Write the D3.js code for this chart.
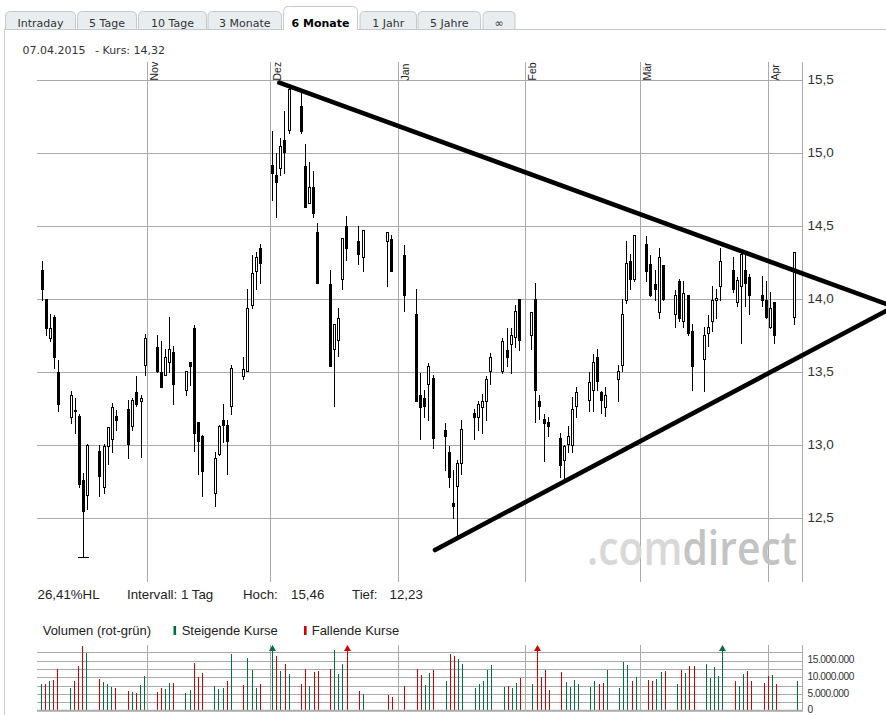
<!DOCTYPE html>
<html><head><meta charset="utf-8">
<script src="https://cdn.jsdelivr.net/npm/d3@7"></script>
<style>body{margin:0;background:#fff}svg{display:block}</style>
</head><body>
<svg id="c" width="886" height="715"></svg>
<script>
// ---------- DATA ----------
const dates = [
"2014-10-06","2014-10-07","2014-10-08","2014-10-09","2014-10-10","2014-10-13","2014-10-14","2014-10-15","2014-10-16","2014-10-17",
"2014-10-20","2014-10-21","2014-10-22","2014-10-23","2014-10-24","2014-10-27","2014-10-28","2014-10-29","2014-10-30","2014-10-31",
"2014-11-03","2014-11-04","2014-11-05","2014-11-06","2014-11-07","2014-11-10","2014-11-11","2014-11-12","2014-11-13","2014-11-14",
"2014-11-17","2014-11-18","2014-11-19","2014-11-20","2014-11-21","2014-11-24","2014-11-25","2014-11-26","2014-11-27","2014-11-28",
"2014-12-01","2014-12-02","2014-12-03","2014-12-04","2014-12-05","2014-12-08","2014-12-09","2014-12-10","2014-12-11","2014-12-12",
"2014-12-15","2014-12-16","2014-12-17","2014-12-18","2014-12-19","2014-12-22","2014-12-23","2014-12-29","2014-12-30",
"2015-01-02","2015-01-05","2015-01-06","2015-01-07","2015-01-08","2015-01-09","2015-01-12","2015-01-13","2015-01-14","2015-01-15",
"2015-01-16","2015-01-19","2015-01-20","2015-01-21","2015-01-22","2015-01-23","2015-01-26","2015-01-27","2015-01-28","2015-01-29","2015-01-30",
"2015-02-02","2015-02-03","2015-02-04","2015-02-05","2015-02-06","2015-02-09","2015-02-10","2015-02-11","2015-02-12","2015-02-13",
"2015-02-16","2015-02-17","2015-02-18","2015-02-19","2015-02-20","2015-02-23","2015-02-24","2015-02-25","2015-02-26","2015-02-27",
"2015-03-02","2015-03-03","2015-03-04","2015-03-05","2015-03-06","2015-03-09","2015-03-10","2015-03-11","2015-03-12","2015-03-13",
"2015-03-16","2015-03-17","2015-03-18","2015-03-19","2015-03-20","2015-03-23","2015-03-24","2015-03-25","2015-03-26","2015-03-27",
"2015-03-30","2015-03-31","2015-04-01","2015-04-02","2015-04-07"];
const open = [
14.20,14.00,13.73,13.88,13.50,13.19,13.24,13.20,12.76,12.66,
12.96,12.71,12.99,13.04,13.20,13.25,13.13,13.36,13.30,13.55,
13.67,13.50,13.48,13.57,13.64,13.38,13.57,13.80,13.16,13.06,
12.67,12.94,13.17,13.14,13.27,13.47,13.51,13.96,14.19,14.35,
14.92,14.85,14.90,15.09,15.16,15.32,14.91,14.66,14.77,14.46,
14.10,13.66,13.72,14.14,14.50,14.40,14.29,14.40,14.41,
14.30,13.90,13.34,13.32,13.42,13.46,13.10,12.95,12.60,12.72,
12.88,13.22,13.19,13.26,13.30,13.51,13.51,13.65,13.69,13.74,14.00,
13.75,14.00,13.30,13.18,13.16,13.05,12.90,13.01,13.00,13.27,
13.31,13.38,13.60,13.36,13.26,13.45,13.55,13.99,14.26,14.14,
14.38,14.24,14.10,13.91,14.23,13.90,14.12,13.85,14.03,13.78,
13.59,13.77,13.85,13.99,14.09,14.20,13.98,14.09,14.20,14.15,
14.03,13.99,13.81,13.98,13.88];
const high = [
14.26,14.00,13.90,13.89,13.58,13.37,13.32,13.21,12.81,13.01,
13.00,13.01,13.12,13.29,13.24,13.31,13.32,13.47,13.34,13.76,
13.75,13.71,13.66,13.88,13.68,13.51,13.57,13.82,13.16,13.07,
12.95,13.14,13.28,13.17,13.55,13.60,14.07,14.30,14.32,14.38,
15.15,15.00,15.10,15.29,15.46,15.41,15.06,14.94,14.88,14.52,
14.20,13.83,13.94,14.42,14.57,14.50,14.47,14.46,14.44,
14.37,14.07,13.49,13.38,13.56,13.48,13.15,12.99,12.83,12.90,
13.17,13.25,13.30,13.35,13.47,13.63,13.73,13.80,13.80,13.96,14.00,
13.91,14.11,13.34,13.21,13.19,13.08,13.00,13.13,13.33,13.40,
13.50,13.62,13.66,13.37,13.40,13.55,14.00,14.40,14.31,14.44,
14.43,14.30,14.20,14.35,14.23,14.06,14.14,14.12,14.03,13.83,
13.81,13.89,14.09,14.07,14.35,14.29,14.15,14.34,14.32,14.17,
14.16,14.12,14.05,13.98,14.32];
const low = [
13.99,13.75,13.71,13.53,13.23,13.15,13.08,12.71,12.23,12.56,
12.65,12.67,12.87,12.95,13.10,12.91,13.10,13.27,12.92,13.48,
13.50,13.40,13.48,13.50,13.28,13.34,13.41,12.96,12.80,12.65,
12.58,12.93,13.02,12.80,13.21,13.45,13.51,13.94,14.07,14.11,
14.68,14.56,14.85,14.86,15.14,15.14,14.63,14.66,14.56,14.11,
13.54,13.27,13.61,14.07,14.27,14.24,14.19,14.09,14.19,
13.92,13.30,13.04,13.19,13.17,12.98,12.83,12.71,12.50,12.37,
12.80,13.04,13.10,13.08,13.17,13.42,13.49,13.54,13.49,13.67,13.65,
13.66,13.16,13.18,12.89,13.06,12.78,12.76,12.95,12.95,13.19,
13.23,13.23,13.38,13.22,13.20,13.30,13.51,13.97,14.07,14.12,
14.12,14.02,13.99,13.87,13.99,13.81,13.85,13.81,13.75,13.38,
13.37,13.68,13.78,13.87,13.99,14.05,13.95,13.70,13.95,13.90,
13.95,13.87,13.80,13.70,13.83];
const close = [
14.07,13.80,13.80,13.60,13.28,13.34,13.23,12.73,12.55,13.00,
12.79,12.99,13.12,13.26,13.17,13.01,13.31,13.28,13.32,13.73,
13.51,13.40,13.60,13.66,13.42,13.51,13.54,13.08,13.03,12.82,
12.91,13.13,13.14,13.03,13.53,13.52,13.94,14.18,14.29,14.25,
14.86,14.80,15.05,15.01,15.44,15.15,14.63,14.77,14.59,14.11,
13.54,13.83,13.87,14.42,14.35,14.31,14.47,14.46,14.19,
14.03,13.30,13.26,13.27,13.54,13.05,13.06,12.78,12.58,12.88,
13.11,13.19,13.28,13.30,13.45,13.60,13.71,13.60,13.75,13.92,13.72,
13.91,13.38,13.27,13.15,13.13,12.86,12.99,13.06,13.25,13.36,
13.43,13.57,13.44,13.31,13.34,13.51,13.90,14.25,14.14,14.44,
14.19,14.03,14.07,14.29,14.00,14.03,13.87,14.04,13.77,13.54,
13.75,13.81,13.99,14.01,14.26,14.07,14.13,14.31,14.11,14.03,
13.99,13.88,13.94,13.75,14.32];
// volume in millions of shares
const volume = [
8.0,8.0,8.9,9.3,12.5,6.8,8.9,13.4,19.3,17.3,
9.5,8.6,8.0,7.1,6.8,5.9,5.6,5.3,7.7,10.4,
5.6,6.8,6.5,8.3,8.3,5.3,6.2,14.3,10.1,11.3,
7.4,6.5,6.8,8.9,17.0,7.7,15.8,12.2,6.8,8.0,
21.0,16.4,11.9,14.0,11.0,8.0,12.5,7.4,11.6,11.9,
12.5,18.2,11.0,14.0,21.0,5.9,5.0,4.7,4.1,
7.4,12.5,10.7,7.7,11.3,12.2,8.9,17.0,16.4,15.5,
14.0,6.8,8.0,8.9,12.2,13.7,7.1,7.4,6.8,8.3,9.8,
8.0,21.0,10.1,12.2,6.2,11.6,8.6,7.1,9.2,8.0,
7.1,8.9,8.0,8.3,12.2,6.8,14.6,13.7,8.9,10.1,
9.2,8.9,9.5,11.6,11.9,8.0,12.2,11.3,13.4,13.4,
14.0,9.8,13.1,10.4,21.0,8.9,7.4,11.0,11.9,8.9,
8.3,10.4,10.7,8.0,8.9];
// 1 = Steigende Kurse (green), 0 = Fallende Kurse (red)
const volUp = [
1,0,1,0,0,1,0,0,0,1,
0,1,1,1,0,0,1,0,1,1,
0,0,1,1,0,1,1,0,0,0,
1,1,1,0,1,0,1,1,1,0,
1,0,1,0,1,0,0,1,0,0,
0,1,1,1,0,0,1,0,0,
0,0,0,1,1,0,1,0,0,1,
1,1,1,1,1,1,1,0,1,1,0,
1,0,0,0,0,0,1,1,1,1,
1,1,0,0,1,1,1,1,0,1,
0,0,1,1,0,1,0,1,0,0,
1,1,1,1,1,0,1,1,0,0,
0,0,1,0,1];
const priceTicks = [12.5, 13.0, 13.5, 14.0, 14.5, 15.0, 15.5];
const priceTickLabels = ["12,5","13,0","13,5","14,0","14,5","15,0","15,5"];
const monthLabels = ["Nov","Dez","Jan","Feb","Mär","Apr"];
const volGridTicks = [0, 2.5, 5, 7.5, 10, 12.5, 15, 17.5];
const volLabelTicks = [0, 5, 10, 15];
const volLabelText = ["0","5.000.000","10.000.000","15.000.000"];
const trendUpper = [["2014-12-03T06:00", 15.482], ["2015-04-29T18:30", 13.966]];
const trendLower = [["2015-01-10T02:30", 12.281], ["2015-04-29T18:30", 13.918]];
const tabLabels = ["Intraday","5 Tage","10 Tage","3 Monate","6 Monate","1 Jahr","5 Jahre","∞"];
const activeTab = "6 Monate";
const headerDate = "07.04.2015", headerKurs = "- Kurs: 14,32";
const statsTexts = ["26,41%HL","Intervall: 1 Tag","Hoch:","15,46","Tief:","12,23"];

// ---------- LAYOUT ----------
const W = 886, H = 715;
const L = 37, R = 802;          // plot x extents
const T = 62, B = 582;          // plot y extents (grid verticals)
const VT = 645, VB = 710.7;     // volume panel
const tabEdges = [[5,76],[77,137],[138,207],[207.5,282],[283,358],[359.5,417],[417.5,481],[482.5,515.5]];
const statsX = [37.5,127,243,291,352,389.5];
const arial = "'Liberation Sans', Arial, sans-serif";
const verdana = "'DejaVu Sans', Verdana, sans-serif";

const svg = d3.select("#c");
svg.append("rect").attr("width",W).attr("height",H).attr("fill","#fff");

const pDay = d3.timeParse("%Y-%m-%d");
const pTime = d3.timeParse("%Y-%m-%dT%H:%M");

const x = d3.scaleTime().domain([new Date(2014,10,1), new Date(2015,3,1)]).range([146.7, 767.7]);
const xv = d3.scaleTime().domain(x.domain()).range([146.2, 770.0]);
const y = d3.scaleLinear().domain([12.5, 15.5]).range([518, 80]);
const yv = d3.scaleLinear().domain([0, 17.5]).range([VB, 652.3]);

const data = dates.map((d,i)=>({date: d3.timeHour.offset(pDay(d),12), o:open[i], h:high[i], l:low[i], c:close[i], v:volume[i], up:volUp[i]}));

// ---------- TABS ----------
const gTabs = svg.append("g");
gTabs.append("line").attr("x1",4).attr("x2",W).attr("y1",29.5).attr("y2",29.5).attr("stroke","#c8c8c8");
svg.append("line").attr("x1",4.5).attr("x2",4.5).attr("y1",29.5).attr("y2",H).attr("stroke","#cfcfcf");
tabLabels.forEach((t,i)=>{
  const [x0,x1] = tabEdges[i];
  const act = t===activeTab;
  const top = act ? 6.5 : 11.5, bot = act ? 30 : 29.5, r = 5;
  const a = x0+0.5, b = x1-0.5;
  gTabs.append("path")
    .attr("d",`M${a},${bot} L${a},${top+r} Q${a},${top} ${a+r},${top} L${b-r},${top} Q${b},${top} ${b},${top+r} L${b},${bot}` + (act?"":" Z"))
    .attr("fill", act ? "#fff" : "#e8edf0").attr("stroke","#c6c9cc");
  gTabs.append("text").attr("x",(x0+x1)/2).attr("y",26.5).attr("text-anchor","middle")
    .attr("font-family",verdana).attr("font-size",11).attr("font-weight",act?"bold":"normal")
    .attr("fill",act?"#000":"#333").text(t);
});

// header line
svg.append("text").attr("x",22.5).attr("y",54.3).attr("font-family",verdana).attr("font-size",11).attr("fill","#333").text(headerDate);
svg.append("text").attr("x",95).attr("y",54.3).attr("font-family",verdana).attr("font-size",11).attr("fill","#333").text(headerKurs);

// ---------- PRICE GRID ----------
const months = d3.timeMonth.range(x.invert(L), x.invert(R));
const gGrid = svg.append("g").attr("shape-rendering","crispEdges").attr("stroke","#aaaaaa");
priceTicks.forEach(v=>{
  const yy = Math.round(y(v))+0.5;
  gGrid.append("line").attr("x1",L).attr("x2",R).attr("y1",yy).attr("y2",yy);
});
months.forEach(m=>{
  const xx = Math.round(x(m))+0.5;
  gGrid.append("line").attr("x1",xx).attr("x2",xx).attr("y1",T).attr("y2",B);
});
gGrid.append("line").attr("x1",R+0.5).attr("x2",R+0.5).attr("y1",T).attr("y2",B);

// month labels (rotated)
months.forEach((m,i)=>{
  const xx = Math.round(x(m))+10.5;
  svg.append("text").attr("transform",`translate(${xx},80.5) rotate(-90)`)
    .attr("font-family",arial).attr("font-size",10.5).attr("fill","#222").text(monthLabels[i]);
});
// price labels
priceTicks.forEach((v,i)=>{
  svg.append("text").attr("x",807.5).attr("y",Math.round(y(v))+3.8)
    .attr("font-family",arial).attr("font-size",13.5).attr("fill","#333").text(priceTickLabels[i]);
});

// watermark (scaled horizontally to the logo's width)
const wm = svg.append("text").attr("font-family","'Open Sans', sans-serif")
  .attr("font-size",47).attr("font-weight",600);
wm.append("tspan").attr("fill","#d8d8d8").text(".com");
wm.append("tspan").attr("fill","#c3c3c3").text("direct");
const wmLen = wm.node().getComputedTextLength();
wm.attr("transform",`translate(587,565) scale(${210/wmLen},1)`);

// ---------- CANDLES ----------
const gC = svg.append("g").attr("shape-rendering","crispEdges");
data.forEach(d=>{
  const cx = Math.round(x(d.date));
  gC.append("line").attr("x1",cx+0.5).attr("x2",cx+0.5)
    .attr("y1",Math.round(y(d.h))).attr("y2",Math.round(y(d.l))+1).attr("stroke","#000");
  const top = Math.round(y(Math.max(d.o,d.c))), bot = Math.round(y(Math.min(d.o,d.c)));
  if (d.c >= d.o) {
    gC.append("rect").attr("x",cx-0.5).attr("y",top+0.5).attr("width",2).attr("height",Math.max(1,bot-top))
      .attr("fill","#fff").attr("stroke","#000");
  } else {
    gC.append("rect").attr("x",cx-1).attr("y",top).attr("width",3).attr("height",Math.max(2,bot-top+1)).attr("fill","#000");
  }
});
// high / low markers
const lowest = d3.least(data,d=>d.l), highest = d3.greatest(data,d=>d.h);
[[lowest,lowest.l],[highest,highest.h]].forEach(([d,v])=>{
  const cx = Math.round(x(d.date)), yy = Math.round(y(v))+0.5;
  gC.append("line").attr("x1",cx-5).attr("x2",cx+6).attr("y1",yy).attr("y2",yy).attr("stroke","#000");
});

// ---------- TREND LINES ----------
const line = d3.line().x(p=>x(pTime(p[0]))).y(p=>y(p[1]));
[trendUpper, trendLower].forEach(t=>{
  svg.append("path").attr("d",line(t)).attr("fill","none").attr("stroke","#000").attr("stroke-width",4.6).attr("stroke-linecap","round");
});

// ---------- STATS ----------
statsTexts.forEach((t,i)=>{
  svg.append("text").attr("x",statsX[i]).attr("y",599).attr("font-family",arial).attr("font-size",13.3).attr("fill","#222").text(t);
});
// volume legend
svg.append("text").attr("x",42.7).attr("y",635).attr("font-family",arial).attr("font-size",13).attr("fill","#222").text("Volumen (rot-grün)");
svg.append("rect").attr("x",173.5).attr("y",626).attr("width",2.6).attr("height",9).attr("fill","#00703c");
svg.append("text").attr("x",181.7).attr("y",635).attr("font-family",arial).attr("font-size",13).attr("fill","#222").text("Steigende Kurse");
svg.append("rect").attr("x",304).attr("y",626).attr("width",2.6).attr("height",9).attr("fill","#d40000");
svg.append("text").attr("x",311.7).attr("y",635).attr("font-family",arial).attr("font-size",13).attr("fill","#222").text("Fallende Kurse");

// ---------- VOLUME PANEL ----------
const gV = svg.append("g").attr("shape-rendering","crispEdges").attr("stroke","#aaaaaa");
volGridTicks.forEach(v=>{
  if (v===0) return;
  const yy = Math.round(yv(v))+0.5;
  gV.append("line").attr("x1",L).attr("x2",R).attr("y1",yy).attr("y2",yy);
});
months.forEach(m=>{
  const xx = Math.round(x(m))+0.5;
  gV.append("line").attr("x1",xx).attr("x2",xx).attr("y1",VT).attr("y2",VB);
});
gV.append("line").attr("x1",R+0.5).attr("x2",R+0.5).attr("y1",VT).attr("y2",VB);

const gB = svg.append("g").attr("shape-rendering","crispEdges");
const vMax = yv.invert(VT+1);
data.forEach(d=>{
  const xx = Math.round(xv(d.date))+0.5;
  const col = d.up ? "#00703c" : "#d40000";
  const over = d.v > vMax;
  gB.append("line").attr("x1",xx).attr("x2",xx).attr("y1",yv(0)).attr("y2",over?VT+1:yv(d.v)).attr("stroke",col);
  if (over) {
    svg.append("path").attr("d",`M${xx-3.5},${VT+6} L${xx},${VT} L${xx+3.5},${VT+6} Z`).attr("fill",col);
  }
});
svg.append("line").attr("x1",L).attr("x2",R+1).attr("y1",yv(0)).attr("y2",yv(0)).attr("stroke","#aaaaaa").attr("stroke-width",2);

volLabelTicks.forEach((v,i)=>{
  svg.append("text").attr("x",807.5).attr("y",yv(v)+2.5)
    .attr("font-family",arial).attr("font-size",10.2).attr("letter-spacing",v===0?0:-0.45).attr("fill","#333").text(volLabelText[i]);
});
</script>
</body></html>
